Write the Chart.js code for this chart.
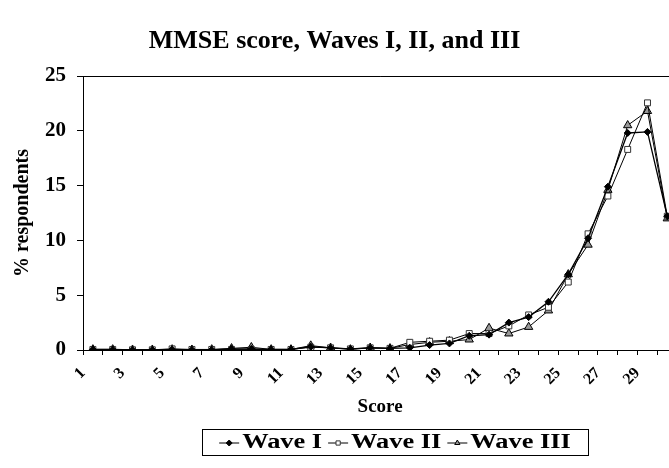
<!DOCTYPE html>
<html>
<head>
<meta charset="utf-8">
<script src="https://cdn.jsdelivr.net/npm/chart.js@4.4.1/dist/chart.umd.min.js"></script>
<style>
  html, body { margin: 0; padding: 0; background: #fff; overflow: hidden; }
  #wrap { width: 669px; height: 468px; overflow: hidden; }
</style>
</head>
<body>
<div id="wrap"><canvas id="chart" width="683" height="468"></canvas></div>
<script>
// MMSE score distribution, % of respondents per wave
const scores = ['1','2','3','4','5','6','7','8','9','10','11','12','13','14','15',
                '16','17','18','19','20','21','22','23','24','25','26','27','28','29','30'];
const wave1 = [0.05,0.05,0.02,0.02,0.05,0.02,0.02,0.1,0.1,0.05,0.05,0.3,0.2,0.1,0.2,
               0.15,0.2,0.45,0.6,1.3,1.4,2.5,3.0,4.4,6.9,10.2,14.9,19.8,19.9,12.2];
const wave2 = [0.05,0.05,0.02,0.02,0.1,0.05,0.05,0.05,0.05,0.05,0.05,0.25,0.2,0.1,0.2,
               0.15,0.7,0.8,0.9,1.5,1.5,2.2,3.2,3.9,6.2,10.6,14.05,18.3,22.55,12.2];
const wave3 = [0.05,0.05,0.02,0.02,0.05,0.02,0.05,0.15,0.25,0.05,0.05,0.4,0.2,0.05,0.2,
               0.15,0.5,0.7,0.8,0.95,2.0,1.5,2.1,3.6,6.9,9.6,14.6,20.5,21.8,12.0];
const yTicks = [0, 5, 10, 15, 20, 25];
const chartTitle = 'MMSE score, Waves I, II, and III';

const serif = '"Liberation Serif", "Times New Roman", serif';
const pageW = 669; // visible width, the plot runs a little past the right edge

// title centred on the page + top border of the plot area
const frame = {
  id: 'frame',
  afterDraw(chart) {
    const { ctx, chartArea } = chart;
    ctx.save();
    ctx.strokeStyle = '#000';
    ctx.lineWidth = 1;
    ctx.beginPath();
    ctx.moveTo(chartArea.left, chartArea.top + 0.5);
    ctx.lineTo(chartArea.right, chartArea.top + 0.5);
    ctx.stroke();
    ctx.fillStyle = '#000';
    ctx.font = 'bold 26px ' + serif;
    ctx.textAlign = 'center';
    ctx.textBaseline = 'middle';
    ctx.fillText(chartTitle, pageW / 2, 41);
    ctx.restore();
  }
};

// boxed legend below the axis title
const boxLegend = {
  id: 'boxLegend',
  afterDraw(chart) {
    const ctx = chart.ctx;
    const bx = 202, by = 429, bw = 386, bh = 26;
    const sx = 1.32; // wide lettering as in the original
    ctx.save();
    ctx.strokeStyle = '#000';
    ctx.lineWidth = 1;
    ctx.strokeRect(bx + 0.5, by + 0.5, bw, bh);
    ctx.font = 'bold 20px ' + serif;
    ctx.textBaseline = 'middle';
    const cy = by + bh / 2 + 1;
    const lineW = 20, gap = 3, sep = 6;
    const items = chart.data.datasets.map(ds => ({ ds, w: ctx.measureText(ds.label).width * sx }));
    const total = items.reduce((s, it) => s + lineW + gap + it.w, 0) + sep * (items.length - 1);
    let x = bx + (bw - total) / 2;
    items.forEach(({ ds, w }) => {
      ctx.strokeStyle = '#000';
      ctx.lineWidth = 1;
      ctx.beginPath();
      ctx.moveTo(x, cy);
      ctx.lineTo(x + lineW, cy);
      ctx.stroke();
      ctx.fillStyle = ds.pointBackgroundColor;
      ctx.strokeStyle = ds.pointBorderColor;
      Chart.helpers.drawPoint(ctx, { pointStyle: ds.pointStyle, radius: 3, borderWidth: 1, rotation: 0 }, x + lineW / 2, cy);
      ctx.fillStyle = '#000';
      ctx.save();
      ctx.translate(x + lineW + gap, cy);
      ctx.scale(sx, 1);
      ctx.fillText(ds.label, 0, 0);
      ctx.restore();
      x += lineW + gap + w + sep;
    });
    ctx.restore();
  }
};

new Chart(document.getElementById('chart'), {
  type: 'line',
  data: {
    labels: scores,
    datasets: [
      { label: 'Wave I', data: wave1, borderColor: '#000', borderWidth: 1.3,
        pointStyle: 'rectRot', pointRadius: 3.5, pointBackgroundColor: '#000', pointBorderColor: '#000', pointBorderWidth: 1 },
      { label: 'Wave II', data: wave2, borderColor: '#000', borderWidth: 1,
        pointStyle: 'rect', pointRadius: 4.2, pointBackgroundColor: '#fff', pointBorderColor: '#333', pointBorderWidth: 1 },
      { label: 'Wave III', data: wave3, borderColor: '#000', borderWidth: 1,
        pointStyle: 'triangle', pointRadius: 4.8, pointBackgroundColor: '#999', pointBorderColor: '#000', pointBorderWidth: 1 }
    ]
  },
  options: {
    responsive: false,
    animation: false,
    layout: { padding: { left: 0, right: 0, top: 76, bottom: 46 } },
    plugins: {
      legend: { display: false },
      tooltip: { enabled: false },
      title: { display: false }
    },
    scales: {
      x: {
        offset: true,
        grid: { offset: true, drawOnChartArea: false, drawTicks: true, tickLength: 5, color: '#000' },
        border: { display: true, color: '#000', width: 1 },
        ticks: {
          autoSkip: false, minRotation: 45, maxRotation: 45, color: '#000', padding: 9, labelOffset: -10,
          font: { family: serif, size: 16, weight: 'bold' },
          callback: (v, i) => (i % 2 === 0 ? scores[i] : '')
        },
        title: { display: true, text: 'Score', color: '#000', font: { family: serif, size: 19, weight: 'bold' } },
        afterFit: s => { s.height = 72; s.paddingLeft = 0; s.paddingRight = 0; }
      },
      y: {
        min: 0, max: 25,
        afterBuildTicks: s => { s.ticks = yTicks.map(v => ({ value: v })); },
        grid: { drawOnChartArea: false, drawTicks: true, tickLength: 6, color: '#000' },
        border: { display: true, color: '#000', width: 1 },
        ticks: { color: '#000', padding: 11, font: { family: serif, size: 21, weight: 'bold' } },
        title: { display: true, text: '% respondents', color: '#000', padding: { top: 11, bottom: 4 },
                 font: { family: serif, size: 20, weight: 'bold' } },
        afterFit: s => { s.width = 83; s.paddingTop = 0; s.paddingBottom = 0; }
      }
    }
  },
  plugins: [frame, boxLegend]
});
</script>
</body>
</html>
